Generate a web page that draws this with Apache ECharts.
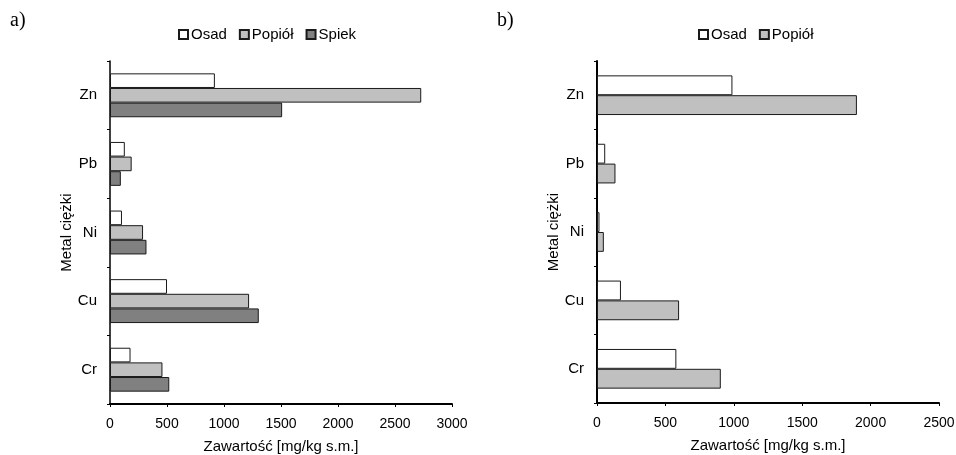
<!DOCTYPE html>
<html>
<head>
<meta charset="utf-8">
<script src="https://cdn.jsdelivr.net/npm/echarts@6/dist/echarts.min.js"></script>
<style>
  html, body { margin: 0; padding: 0; background: #fff; }
  #main { width: 956px; height: 455px; }
</style>
</head>
<body>
<div id="main"></div>
<script>
// metale ciężkie (od dołu osi)
var metals = ['Cr', 'Cu', 'Ni', 'Pb', 'Zn'];

// wykres a)
var osadA   = [180, 500, 105, 130, 920];
var popiolA = [460, 1220, 290, 190, 2730];
var spiekA  = [520, 1305, 320, 95, 1510];

// wykres b)
var osadB   = [580, 175, 18, 60, 990];
var popiolB = [905, 600, 50, 135, 1900];

var font = 'Liberation Sans, Arial, sans-serif';

function barStyle(fill) {
    return { color: fill, borderColor: '#1a1a1a', borderWidth: 1 };
}

function xAx(idx, max) {
    return {
        type: 'value', gridIndex: idx, min: 0, max: max, interval: 500,
        name: 'Zawartość [mg/kg s.m.]', nameLocation: 'middle', nameGap: 35,
        nameTextStyle: { fontFamily: font, fontSize: 15, color: '#000' },
        axisLine: { show: true, lineStyle: { color: '#000', width: 2 } },
        axisTick: { show: true, length: 3, lineStyle: { color: '#000' } },
        axisLabel: {
            fontFamily: font, fontSize: 14, color: '#000', margin: 13,
            formatter: function (v) { return String(v); }
        },
        splitLine: { show: false }
    };
}

function yAx(idx, w) {
    return {
        type: 'category', gridIndex: idx, data: metals,
        name: 'Metal ciężki', nameLocation: 'middle', nameGap: 36,
        nameTextStyle: { fontFamily: font, fontSize: 15, color: '#000' },
        axisLine: { show: true, lineStyle: { color: '#000', width: w } },
        axisTick: { show: true, length: 3, lineStyle: { color: '#000' } },
        axisLabel: { fontFamily: font, fontSize: 15, color: '#000', margin: 13 }
    };
}

var titleStyle = { fontFamily: 'Liberation Serif, serif', fontSize: 20, fontWeight: 'normal', color: '#000' };

var myChart = echarts.init(document.getElementById('main'), null, { renderer: 'canvas' });
myChart.setOption({
    backgroundColor: '#fff',
    animation: false,
    title: [
        { text: 'a)', left: 5, top: 6, textStyle: titleStyle },
        { text: 'b)', left: 492, top: 6, textStyle: titleStyle }
    ],
    legend: [
        {
            data: ['Osad', 'Popiół', 'Spiek'], left: 173, top: 22,
            itemWidth: 9, itemHeight: 9, itemGap: 12, icon: 'rect',
            textStyle: { fontFamily: font, fontSize: 15, color: '#000', padding: [0, 0, 0, -2] }
        },
        {
            data: ['Osad', 'Popiół'], left: 693, top: 22,
            itemWidth: 9, itemHeight: 9, itemGap: 12, icon: 'rect',
            textStyle: { fontFamily: font, fontSize: 15, color: '#000', padding: [0, 0, 0, -2] }
        }
    ],
    grid: [
        { left: 110, top: 61, width: 342, height: 343, outerBoundsMode: 'none' },
        { left: 597, top: 61, width: 342, height: 342, outerBoundsMode: 'none' }
    ],
    xAxis: [xAx(0, 3000), xAx(1, 2500)],
    yAxis: [yAx(0, 1.5), yAx(1, 2)],
    series: [
        { name: 'Osad', type: 'bar', xAxisIndex: 0, yAxisIndex: 0, data: osadA, itemStyle: barStyle('#ffffff'), barGap: '0%', barCategoryGap: '36%' },
        { name: 'Popiół', type: 'bar', xAxisIndex: 0, yAxisIndex: 0, data: popiolA, itemStyle: barStyle('#c0c0c0'), barGap: '0%', barCategoryGap: '36%' },
        { name: 'Spiek', type: 'bar', xAxisIndex: 0, yAxisIndex: 0, data: spiekA, itemStyle: barStyle('#808080'), barGap: '0%', barCategoryGap: '36%' },
        { name: 'Osad', type: 'bar', xAxisIndex: 1, yAxisIndex: 1, data: osadB, itemStyle: barStyle('#ffffff'), barGap: '0%', barCategoryGap: '42%' },
        { name: 'Popiół', type: 'bar', xAxisIndex: 1, yAxisIndex: 1, data: popiolB, itemStyle: barStyle('#c0c0c0'), barGap: '0%', barCategoryGap: '42%' }
    ]
});
</script>
</body>
</html>
